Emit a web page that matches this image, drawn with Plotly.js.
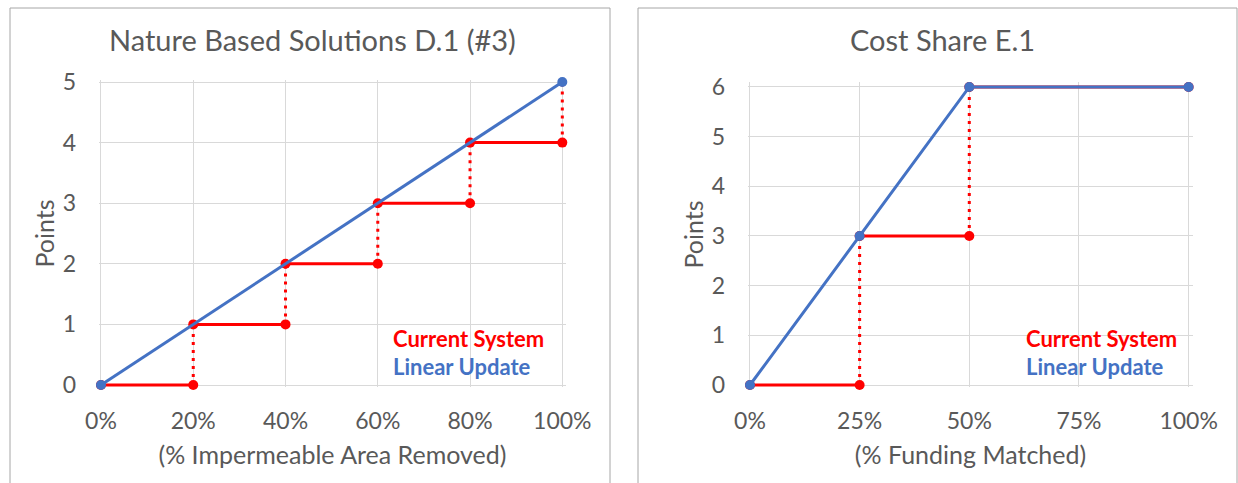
<!DOCTYPE html>
<html>
<head>
<meta charset="utf-8">
<script src="https://cdn.plot.ly/plotly-3.0.1.min.js"></script>
<style>
html,body{margin:0;padding:0;background:#fff;}
#chart{width:1238px;height:483px;}
</style>
</head>
<body>
<div id="chart"></div>
<script>
// ---- Data ----
const natureX = [0, 0.2, 0.4, 0.6, 0.8, 1.0];
const natureCurrent = [0, 1, 2, 3, 4, 5];
const natureLinearX = [0, 1.0];
const natureLinear = [0, 5];
const natureTicks = [0, 0.2, 0.4, 0.6, 0.8, 1.0];
const natureTickLabels = ["0%", "20%", "40%", "60%", "80%", "100%"];

const costX = [0, 0.25, 0.5, 1.0];
const costCurrent = [0, 3, 6, 6];
const costLinearX = [0, 0.25, 0.5, 1.0];
const costLinear = [0, 3, 6, 6];
const costTicks = [0, 0.25, 0.5, 0.75, 1.0];
const costTickLabels = ["0%", "25%", "50%", "75%", "100%"];

const titles = ["Nature Based Solutions D.1 (#3)", "Cost Share E.1"];
const xTitles = ["(% Impermeable Area Removed)", "(% Funding Matched)"];
const yTitle = "Points";
const legendLabels = ["Current System", "Linear Update"];

// ---- Styling ----
const W = 1238, H = 483;
const RED = "#FF0000", BLUE = "#4472C4", TXT = "#595959", GRID = "#D9D9D9";
const FONT = "Lato, 'Open Sans', sans-serif";
const px = v => v / W;
const py = v => 1 - v / H;

function stepTraces(xs, ys, xa, ya) {
  const hx = [], hy = [], vx = [], vy = [];
  for (let i = 0; i < xs.length - 1; i++) {
    hx.push(xs[i], xs[i + 1], null); hy.push(ys[i], ys[i], null);
    vx.push(xs[i + 1], xs[i + 1], null); vy.push(ys[i], ys[i + 1], null);
  }
  return [
    {x: vx, y: vy, xaxis: xa, yaxis: ya, mode: "lines", type: "scatter", cliponaxis: false,
     line: {color: RED, width: 3, dash: "3px,5px"}, hoverinfo: "skip", showlegend: false},
    {x: hx, y: hy, xaxis: xa, yaxis: ya, mode: "lines+markers", type: "scatter", cliponaxis: false,
     line: {color: RED, width: 3}, marker: {color: RED, size: 10}, showlegend: false}
  ];
}
function linearTrace(xs, ys, xa, ya) {
  return {x: xs, y: ys, xaxis: xa, yaxis: ya, mode: "lines+markers", type: "scatter", cliponaxis: false,
    line: {color: BLUE, width: 3}, marker: {color: BLUE, size: 10}, showlegend: false};
}

const data = [
  ...stepTraces(natureX, natureCurrent, "x", "y"),
  linearTrace(natureLinearX, natureLinear, "x", "y"),
  ...stepTraces(costX, costCurrent, "x2", "y2"),
  linearTrace(costLinearX, costLinear, "x2", "y2")
];

function xAxis(domain, range, tv, tt, title, anchor) {
  return {domain, range, tickvals: tv, ticktext: tt, anchor,
    showgrid: true, gridcolor: GRID, gridwidth: 1, zeroline: false, showline: false,
    ticks: "", ticklabelstandoff: 18, tickfont: {family: FONT, size: 23, color: TXT},
    title: {text: title, font: {family: FONT, size: 25, color: TXT}, standoff: 13},
    fixedrange: true};
}
function yAxis(domain, range, dtick, title, anchor) {
  return {domain, range, dtick, tick0: 0, anchor,
    showgrid: true, gridcolor: GRID, gridwidth: 1, zeroline: false, showline: false,
    ticks: "", ticklabelstandoff: 22, tickfont: {family: FONT, size: 23, color: TXT},
    title: {text: title, font: {family: FONT, size: 25, color: TXT}, standoff: 0},
    fixedrange: true};
}

// pixel geometry: data 0 at bottom=385, small pad so edge lines are not half-clipped
const layout = {
  width: W, height: H,
  margin: {l: 0, r: 0, t: 0, b: 0},
  paper_bgcolor: "#fff", plot_bgcolor: "#fff",
  showlegend: false,
  xaxis: xAxis([px(99), px(566)], [-0.0043, 1.008], natureTicks, natureTickLabels, xTitles[0], "y"),
  yaxis: yAxis([py(387), py(80)], [-0.033, 5.033], 1, yTitle, "x"),
  xaxis2: xAxis([px(748), px(1193)], [-0.0045, 1.01], costTicks, costTickLabels, xTitles[1], "y2"),
  yaxis2: yAxis([py(387), py(82)], [-0.04, 6.1], 1, yTitle, "x2"),
  shapes: [
    {type: "rect", xref: "paper", yref: "paper", x0: px(10), x1: px(610), y0: -0.05, y1: py(8),
     line: {color: "#A6A6A6", width: 1}, fillcolor: "rgba(0,0,0,0)", layer: "below"},
    {type: "rect", xref: "paper", yref: "paper", x0: px(638), x1: px(1237), y0: -0.05, y1: py(8),
     line: {color: "#A6A6A6", width: 1}, fillcolor: "rgba(0,0,0,0)", layer: "below"}
  ],
  annotations: [
    {text: titles[0], xref: "paper", yref: "paper", x: px(312), y: py(40), xanchor: "center", yanchor: "middle",
     showarrow: false, font: {family: FONT, size: 29, color: TXT}},
    {text: titles[1], xref: "paper", yref: "paper", x: px(942), y: py(40), xanchor: "center", yanchor: "middle",
     showarrow: false, font: {family: FONT, size: 29, color: TXT}},
    {text: "<b>" + legendLabels[0] + "</b>", xref: "paper", yref: "paper", x: px(391), y: py(338), xanchor: "left", yanchor: "middle",
     showarrow: false, font: {family: FONT, size: 22, color: RED}},
    {text: "<b>" + legendLabels[1] + "</b>", xref: "paper", yref: "paper", x: px(391), y: py(366), xanchor: "left", yanchor: "middle",
     showarrow: false, font: {family: FONT, size: 22, color: BLUE}},
    {text: "<b>" + legendLabels[0] + "</b>", xref: "paper", yref: "paper", x: px(1024), y: py(338), xanchor: "left", yanchor: "middle",
     showarrow: false, font: {family: FONT, size: 22, color: RED}},
    {text: "<b>" + legendLabels[1] + "</b>", xref: "paper", yref: "paper", x: px(1024), y: py(366), xanchor: "left", yanchor: "middle",
     showarrow: false, font: {family: FONT, size: 22, color: BLUE}}
  ]
};

Plotly.newPlot("chart", data, layout, {staticPlot: true, displayModeBar: false});
</script>
</body>
</html>
